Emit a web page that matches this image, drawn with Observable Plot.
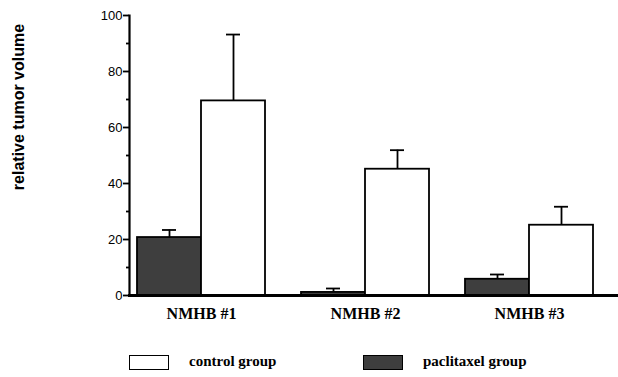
<!DOCTYPE html>
<html><head><meta charset="utf-8">
<script src="https://cdn.jsdelivr.net/npm/d3@7"></script>
<script src="https://cdn.jsdelivr.net/npm/@observablehq/plot@0.6"></script>
<style>
body{margin:0;background:#fff;}
#wrap{position:relative;width:618px;height:377px;overflow:hidden;}
#ylab{position:absolute;left:19px;top:107px;transform:translate(-50%,-50%) rotate(-90deg);font:bold 16px "Liberation Sans",Arial,sans-serif;white-space:nowrap;color:#000;}
#legend{position:absolute;top:355px;left:0;width:618px;height:16px;font:bold 15px "Liberation Serif","Times New Roman",serif;color:#000;}
.sw{position:absolute;top:0;width:38px;height:13px;border:1.5px solid #000;}
.lt{position:absolute;top:-2px;white-space:nowrap;}
</style></head><body>
<div id="wrap"><div id="chart"></div><div id="ylab">relative tumor volume</div><div id="legend"></div></div>
<script>
const groups = ["NMHB #1", "NMHB #2", "NMHB #3"];
const series = ["paclitaxel group", "control group"];
const paclitaxel = [20.7, 1.1, 5.8];
const paclitaxelErr = [2.7, 1.4, 1.7];
const control = [69.5, 45.1, 25.1];
const controlErr = [23.7, 6.8, 6.6];
const yTicks = [0, 20, 40, 60, 80, 100];
const yMinorTicks = [10, 30, 50, 70, 90];
const colors = ["#3e3e3e", "#ffffff"];
const legendOrder = ["control group", "paclitaxel group"];

const rows = [];
groups.forEach((g, i) => {
  rows.push({group: g, series: series[0], value: paclitaxel[i], top: paclitaxel[i] + paclitaxelErr[i]});
  rows.push({group: g, series: series[1], value: control[i], top: control[i] + controlErr[i]});
});

const chart = Plot.plot({
  width: 618,
  height: 335,
  marginLeft: 129,
  marginRight: 17,
  marginTop: 15,
  marginBottom: 40,
  style: {background: "#fff", color: "#000", fontFamily: "'Liberation Sans', Arial, sans-serif"},
  fx: {domain: groups, paddingInner: 0.122, paddingOuter: 0, label: null},
  x: {domain: series, paddingInner: 0, paddingOuter: 0.125, axis: null},
  y: {domain: [0, 100], label: null},
  color: {domain: series, range: colors},
  marks: [
    Plot.barY(rows, {fx: "group", x: "series", y: "value", fill: "series", stroke: "#000", strokeWidth: 1.8}),
    Plot.ruleX(rows, {fx: "group", x: "series", y1: "value", y2: "top", stroke: "#000", strokeWidth: 1.8}),
    Plot.tickY(rows, {fx: "group", x: "series", y: "top", insetLeft: 25, insetRight: 25, stroke: "#000", strokeWidth: 1.8}),
    Plot.frame({anchor: "bottom", facet: "super", stroke: "#000", strokeWidth: 3, insetRight: -17}),
    Plot.frame({anchor: "left", facet: "super", stroke: "#000", strokeWidth: 2.2}),
    Plot.axisY(yTicks, {tickSize: 6, tickPadding: 1, fontSize: 13, label: null, strokeWidth: 1.8}),
    Plot.axisY(yMinorTicks, {tickSize: 3, text: null, label: null, strokeWidth: 1.8}),
    Plot.axisFx({anchor: "bottom", tickSize: 0, tickPadding: 12, label: null, fontSize: 16, fontWeight: "bold", fontFamily: "'Liberation Serif', 'Times New Roman', serif"})
  ]
});
document.getElementById("chart").appendChild(chart);

const legend = document.getElementById("legend");
const swX = [129, 363];
const txX = [189, 423];
legendOrder.forEach((s, i) => {
  const sw = document.createElement("div");
  sw.className = "sw";
  sw.style.left = swX[i] + "px";
  sw.style.background = colors[series.indexOf(s)];
  legend.appendChild(sw);
  const t = document.createElement("div");
  t.className = "lt";
  t.style.left = txX[i] + "px";
  t.textContent = s;
  legend.appendChild(t);
});
</script>
</body></html>
